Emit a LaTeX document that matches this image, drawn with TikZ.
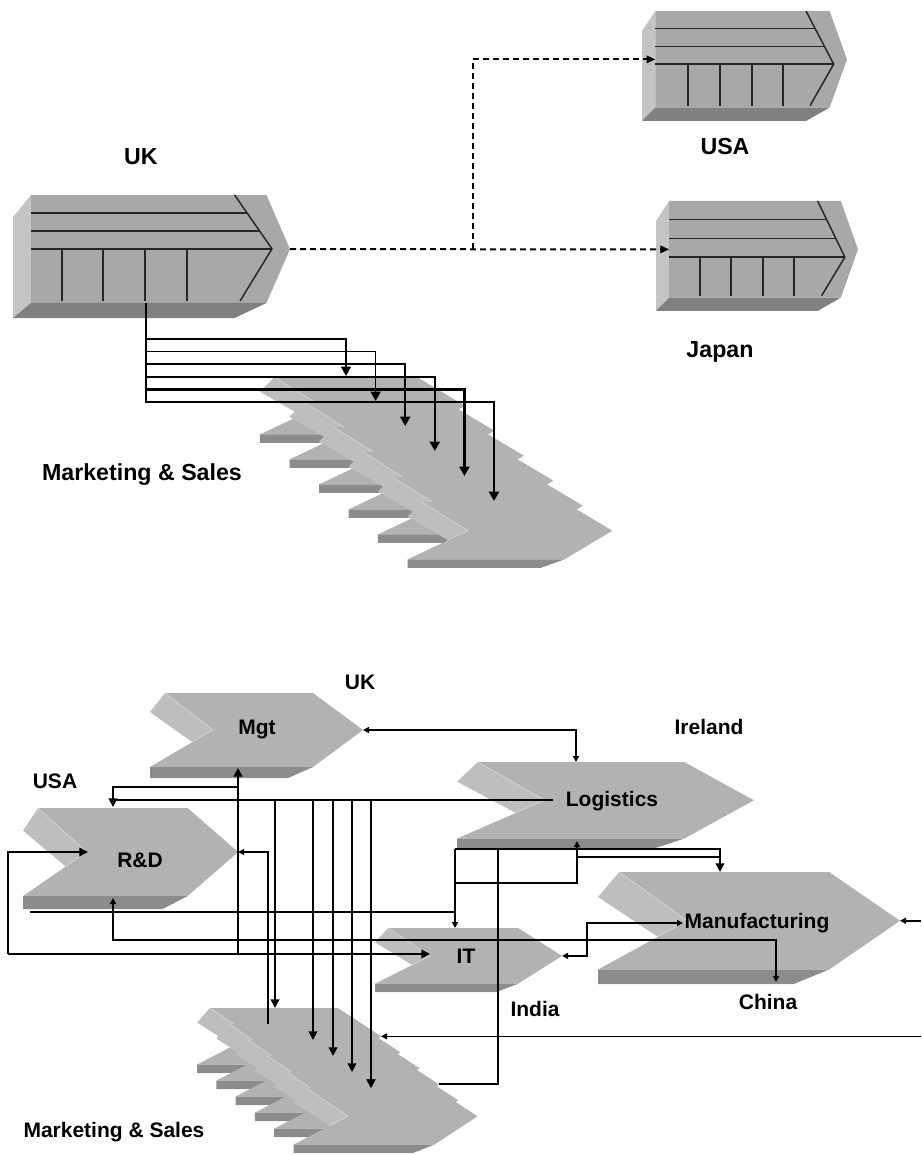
\documentclass[tikz,border=0pt]{standalone}
\usepackage{fontspec}
\setmainfont{Liberation Sans}
\usetikzlibrary{arrows.meta}

\definecolor{chfront}{gray}{0.70}
\definecolor{chside}{gray}{0.745}
\definecolor{chbase}{gray}{0.55}
\definecolor{vcfront}{gray}{0.66}
\definecolor{vcside}{gray}{0.77}
\definecolor{vcbase}{gray}{0.50}

\tikzset{
  lbl/.style={font=\bfseries\fontsize{15.75}{18}\selectfont, inner sep=0pt},
  toplbl/.style={font=\bfseries\fontsize{17.4}{20}\selectfont, inner sep=0pt},
  wire/.style={line width=1.3pt},
  thinwire/.style={line width=1pt},
  vcl/.style={line width=1.1pt, black!85},
  arr/.style={wire, -{Triangle[length=6.5pt,width=6.5pt]}},
  arrs/.style={wire, -{Triangle[length=4.5pt,width=4.5pt]}},
  arrsb/.style={wire, {Triangle[length=4.5pt,width=4.5pt]}-{Triangle[length=4.5pt,width=4.5pt]}},
  dashlink/.style={line width=1.5pt, dash pattern=on 4.5pt off 3pt, -{Triangle[length=6.5pt,width=5.5pt]}},
  pics/chev/.style={code={
    \fill[chfront] (15,0) -- (163,0) -- (213,37) -- (163,74) -- (0,74) -- (63,37) -- cycle;
    \fill[chside] (15,0) -- (0,19) -- (42,49) -- (63,37) -- cycle;
    \draw[gray!30, line width=.4pt] (15,0) -- (63,37) -- (42,49);
    \fill[chbase] (0,74) -- (163,74) -- (138,85) -- (0,85) -- cycle;
    \coordinate (-tip) at (213,37);
  }},
  pics/vchain/.style 2 args={code={
    \fill[vcside] (0,.18) -- (.065,0) -- (.065,.878) -- (0,1) -- cycle;
    \fill[vcfront] (.065,0) -- (.915,0) -- (1,.44) -- (.915,.878) -- (.065,.878) -- cycle;
    \fill[vcbase] (0,1) -- (.065,.878) -- (.915,.878) -- (.80,1) -- cycle;
    \foreach \i in {1,2,3}
      \draw[vcl] (.065,\i*#1) -- (.80+.045*\i,\i*#1);
    \draw[vcl] (.80,0) -- (.935,3*#1) -- (.82,.86);
    \foreach \v in {#2}
      \draw[vcl] (\v,3*#1) -- (\v,.86);
    \coordinate (-tip) at (1,.44);
    \coordinate (-in) at (.065,.44);
  }},
}

\begin{document}
\begin{tikzpicture}[x=0.75pt, y=-0.75pt]
  \useasboundingbox (0,0) rectangle (921,1155);

  % Value chains
  \pic[xscale=277,yscale=123] (ukvc) at (13,195) {vchain={.146}{.177,.325,.477,.628}};
  \pic[xscale=205,yscale=110] (usavc) at (642,11) {vchain={.161}{.224,.38,.537,.688}};
  \pic[xscale=202,yscale=110] (jpvc) at (656,201) {vchain={.17}{.218,.371,.53,.683}};

  \node[toplbl] (uk) at (141,157) {UK};
  \node[toplbl] (usa) at (725,147) {USA};
  \node[toplbl] (japan) at (720,352) {Japan};

  % Dashed links
  \coordinate (fork) at (473,249);
  \draw[dashlink] (ukvc-tip) -- (jpvc-in);
  \draw[dashlink] (fork) |- (usavc-in);

  % Marketing & Sales stack (top)
  \foreach \k in {0,...,5}
    \pic[xscale=.962,yscale=.776] (msu\k) at (260+29.5*\k,377+25*\k) {chev};
  \node[toplbl] (ms1) at (142,475) {Marketing \& Sales};

  \coordinate (ukdrop) at (146,303);
  \foreach \k in {0,...,5} {
    \pgfmathsetmacro\lw{1.1+0.2*\k}
    \coordinate (bend\k) at (346+29.6*\k,339+12.6*\k);
    \coordinate (msa\k) at (346+29.6*\k,376+25*\k);
    \draw[wire, line width=\lw pt, -{Triangle[length=7pt,width=7.5pt]}] (ukdrop) |- (bend\k) -- (msa\k);
  }

  % Chevrons (bottom)
  \pic (mgtc) at (150,693) {chev};
  \pic[xscale=1.01,yscale=1.19] (rdc) at (23,808) {chev};
  \pic[xscale=1.394,yscale=1.035] (logc) at (457,762) {chev};
  \pic[xscale=1.418,yscale=1.318] (mfgc) at (598,872) {chev};
  \pic[xscale=.878,yscale=.753] (itc) at (375,928) {chev};
  \foreach \k in {0,...,5}
    \pic[xscale=.864,yscale=.765] (mss\k) at (197+19.3*\k,1008+16*\k) {chev};

  % Anchor points
  \coordinate (logtop) at (576,762);
  \coordinate (logw) at (553,800);
  \coordinate (rdtop) at (113,807);
  \coordinate (rdw) at (88,852);
  \coordinate (rdb) at (113,898);
  \coordinate (rdbl) at (30,912);
  \coordinate (mgtb) at (238,768);
  \coordinate (mgtj) at (238,787);
  \coordinate (jnl) at (8,954);
  \coordinate (itw) at (430,954);
  \coordinate (itn) at (455,928);
  \coordinate (itbend) at (455,883);
  \coordinate (itj) at (587,956);
  \coordinate (logbl) at (455,849);
  \coordinate (logb) at (577,841);
  \coordinate (logb2) at (498,849);
  \coordinate (mfgn) at (720,872);
  \coordinate (mfgj2) at (720,857);
  \coordinate (mfgw) at (683,923);
  \coordinate (chj) at (776,940);
  \coordinate (chn) at (776,982);
  \coordinate (eastm) at (921,922);
  \coordinate (eastms) at (921,1035);
  \coordinate (msr1) at (268,1024);
  \coordinate (msr5) at (439,1084);

  % Connections
  \draw[arrsb] (mgtc-tip) -| (logtop);
  \draw[arr] (logw) -| (rdtop);
  \draw[wire] (mgtj) -| (logw -| rdtop);
  \draw[arr] (jnl) -- (itw);
  \draw[arr] (jnl) |- (rdw);
  \draw[arr, line width=2pt] (mgtb |- itw) -- (mgtb);
  \draw[arrs] (msr1) |- (rdc-tip);
  \foreach \x/\k in {275/0,313/2,333/3,352/4,371/5} {
    \coordinate (mst\k) at (\x,1008+16*\k);
    \draw[arr] (logw -| mst\k) -- (mst\k);
  }
  \draw[arr, line width=2.2pt] (logw -| mst5) -- (mst5);
  \draw[arrsb] (rdb) |- (chj) -- (chn);
  \draw[thinwire] (rdbl) -- (rdbl -| itn);
  \draw[arrs] (logbl) -- (itn);
  \draw[arr] (logbl) -| (mfgn);
  \draw[arrs] (itbend) -| (logb);
  \draw[wire] (mfgj2 -| logb) -- (mfgj2);
  \draw[thinwire] (logb2) |- (msr5);
  \draw[arrsb] (itc-tip) -- (itj) |- (mfgw);
  \draw[arrs] (eastm |- mfgc-tip) -- (mfgc-tip);
  \draw[arrs, thinwire] (eastms |- mss0-tip) -- (mss0-tip);

  % Labels
  \node[lbl] (mgt) at (257,729) {Mgt};
  \node[lbl] (rd) at (140,860) {R\&D};
  \node[lbl] (logi) at (612,801) {Logistics};
  \node[lbl] (mfg) at (757,923) {Manufacturing};
  \node[lbl] (it) at (466,956) {IT};
  \node[lbl] (uk2) at (360,682) {UK};
  \node[lbl] (usa2) at (55,781) {USA};
  \node[lbl] (ireland) at (709,727) {Ireland};
  \node[lbl] (india) at (535,1009) {India};
  \node[lbl] (china) at (768,1002) {China};
  \node[lbl] (ms2) at (114,1132) {Marketing \& Sales};
\end{tikzpicture}
\end{document}
